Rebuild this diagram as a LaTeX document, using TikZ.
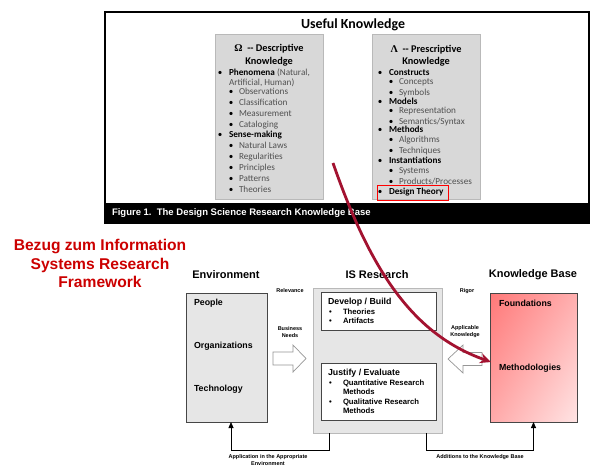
\documentclass[tikz,border=0pt]{standalone}
\usepackage{fontspec}
\setmainfont{Liberation Sans}
\newfontfamily\carl{Carlito}
\newfontfamily\grk{Liberation Serif}
\usetikzlibrary{arrows.meta,shadings}
\definecolor{redtitle}{RGB}{204,0,0}
\definecolor{arrowred}{RGB}{163,18,48}
\definecolor{boxgray}{RGB}{216,216,216}
\definecolor{boxline}{RGB}{185,185,185}
\definecolor{subtext}{RGB}{80,80,80}
\definecolor{envgray}{RGB}{230,230,230}
\definecolor{darkline}{RGB}{70,70,70}
\definecolor{hollow}{RGB}{150,150,150}
\definecolor{kbul}{RGB}{255,120,120}
\definecolor{kbur}{RGB}{255,175,175}
\definecolor{kbll}{RGB}{255,170,170}
\definecolor{kblr}{RGB}{255,228,228}
\tikzset{
  topbox/.style={draw=boxline, fill=boxgray, line width=0.8pt},
  tmain/.style={anchor=west, font=\carl\bfseries\fontsize{9.2}{10}\selectfont, text=black, text height=6pt, text depth=1.5pt},
  tsub/.style={anchor=west, font=\carl\fontsize{9.2}{10}\selectfont, text=subtext, text height=6pt, text depth=1.5pt},
  tbul/.style={anchor=center, font=\carl\fontsize{9}{10}\selectfont, text=black, text height=4pt, text depth=0pt},
  ttitle/.style={anchor=center, font=\carl\bfseries\fontsize{10.3}{12.5}\selectfont, align=center},
  btitle/.style={anchor=center, font=\bfseries\fontsize{11}{13}\selectfont},
  bitem/.style={anchor=west, font=\bfseries\fontsize{8.8}{10}\selectfont},
  bsub/.style={anchor=west, font=\bfseries\fontsize{7.7}{9}\selectfont, text height=5.5pt, text depth=1.5pt},
  blabel/.style={anchor=center, font=\bfseries\fontsize{5.5}{7}\selectfont, align=center},
  hollowarrow/.style={draw=hollow, fill=white, line width=0.7pt, line join=miter},
  conn/.style={draw=black, line width=0.8pt, -{Triangle[length=6pt,width=5pt]}}
}
\begin{document}
\begin{tikzpicture}[x=1pt,y=-1pt, every node/.style={inner sep=0pt, outer sep=0pt}]
\useasboundingbox (0,0) rectangle (591,467);
\fill[white] (0,0) rectangle (591,467);

% ---------- top figure ----------
\node[draw=black, line width=1.5pt, minimum width=484pt, minimum height=211pt] (frame) at (347,117.5) {};
\node[fill=black, minimum width=484pt, minimum height=20pt] (capbar) at (347,213) {};
\node[anchor=west, text=white, font=\bfseries\fontsize{9.5}{11}\selectfont] (caption) at (112,213) {Figure 1.\ \ The Design Science Research Knowledge Base};
\node[font=\carl\bfseries\fontsize{13.9}{16}\selectfont] (useful) at (353,25) {Useful Knowledge};

\node[topbox, minimum width=108pt, minimum height=165pt] (desc) at (269,116.5) {};
\node[topbox, minimum width=108pt, minimum height=165pt] (pres) at (426,116.5) {};

\node[ttitle] (desct) at (269,55) {{\grk\bfseries Ω}\ \ -- Descriptive\\Knowledge};
\node[ttitle] (prest) at (426,55.5) {{\grk\bfseries Λ}\ \ -- Prescriptive\\Knowledge};

% left box
\foreach \y/\t in {73/{Phenomena \mdseries\color{subtext}(Natural,}, 135/Sense-making}{
  \node[tbul] at (220,\y) {•};
  \node[tmain] at (229,\y) {\t};
}
\node[tsub] at (229,83.5) {Artificial, Human)};
\foreach \y/\t in {92/Observations,103/Classification,114/Measurement,125/Cataloging,146/Natural Laws,157/Regularities,168/Principles,179/Patterns,190/Theories}{
  \node[tbul] at (231,\y) {•};
  \node[tsub] at (239,\y) {\t};
}
% right box
\foreach \y/\t in {73/Constructs,102/Models,130/Methods,161/Instantiations,192/Design Theory}{
  \node[tbul] at (380,\y) {•};
  \node[tmain] at (389,\y) {\t};
}
\foreach \y/\t in {82/Concepts,93/Symbols,111/Representation,122/{Semantics/Syntax},140/Algorithms,151/Techniques,171/Systems,182/{Products/Processes}}{
  \node[tbul] at (391,\y) {•};
  \node[tsub] at (399,\y) {\t};
}
\node[draw=red, line width=1pt, minimum width=71pt, minimum height=15pt] (dtbox) at (412.5,192.5) {};

% ---------- red title ----------
\node[text=redtitle, font=\bfseries\fontsize{15.6}{18.5}\selectfont, align=center] (bezug) at (100,263.5) {Bezug zum Information\\Systems Research\\Framework};

% ---------- bottom framework ----------
\node[btitle] (envt) at (226,275) {Environment};
\node[btitle] (ist) at (377,275) {IS Research};
\node[btitle] (kbt) at (533,275) {Knowledge Base};

\node[draw=darkline, fill=envgray, line width=1pt, minimum width=81pt, minimum height=129pt] (env) at (226.5,357.5) {};
\node[bitem] at (194,303) {People};
\node[bitem] at (194,346) {Organizations};
\node[bitem] at (194,389) {Technology};

\node[draw=boxline, fill=envgray, line width=1pt, minimum width=129pt, minimum height=145pt] (isr) at (377.5,360.5) {};
\node[draw=darkline, fill=white, line width=1pt, minimum width=115pt, minimum height=38pt] (dev) at (378.5,311) {};
\node[draw=darkline, fill=white, line width=1pt, minimum width=115pt, minimum height=57pt] (jus) at (378.5,391.5) {};
\node[bitem] at (328,302) {Develop / Build};
\node[bsub] at (329,312) {•};
\node[bsub] at (343,312) {Theories};
\node[bsub] at (329,321) {•};
\node[bsub] at (343,321) {Artifacts};
\node[bitem] at (328,373) {Justify / Evaluate};
\node[bsub] at (329,383) {•};
\node[bsub] at (343,383) {Quantitative Research};
\node[bsub] at (343,392) {Methods};
\node[bsub] at (329,402) {•};
\node[bsub] at (343,402) {Qualitative Research};
\node[bsub] at (343,411) {Methods};

\shade[upper left=kbul, upper right=kbur, lower left=kbll, lower right=kblr]
  (490,293) rectangle (577,422);
\node[draw=darkline, line width=1pt, minimum width=87pt, minimum height=129pt] (kb) at (533.5,357.5) {};
\node[bitem] at (499,303) {Foundations};
\node[bitem] at (499,368) {Methodologies};

% labels
\node[blabel] (rel) at (290,291) {Relevance};
\node[blabel] (bn) at (290,332) {Business\\Needs};
\node[blabel] (rig) at (467,291) {Rigor};
\node[blabel] (ak) at (465,331.5) {Applicable\\Knowledge};

% hollow arrows
\draw[hollowarrow] (273,352) -- (293,352) -- (293,345) -- (306,358.5) -- (293,372) -- (293,365) -- (273,365) -- cycle;
\draw[hollowarrow] (482,352.5) -- (463,352.5) -- (463,345) -- (448,359) -- (463,373) -- (463,365.5) -- (482,365.5) -- cycle;

% bottom connectors
\draw[conn] ([xshift=-48.5pt]isr.south) -- ++(0,17) -| ([xshift=4.5pt]env.south);
\draw[conn] ([xshift=48.5pt]isr.south) -- ++(0,17) -| (kb.south);
\node[blabel] (app) at (268,460.5) {Application in the Appropriate\\Environment};
\node[blabel] (add) at (480,457) {Additions to the Knowledge Base};

% red curved arrow
\coordinate (rstart) at (333,163);
\coordinate (rend) at (491,362);
\draw[arrowred, line width=2.8pt, -{Stealth[length=11pt,width=10pt]}] (rstart) .. controls (372,275) and (415,335) .. (rend);
\end{tikzpicture}
\end{document}
